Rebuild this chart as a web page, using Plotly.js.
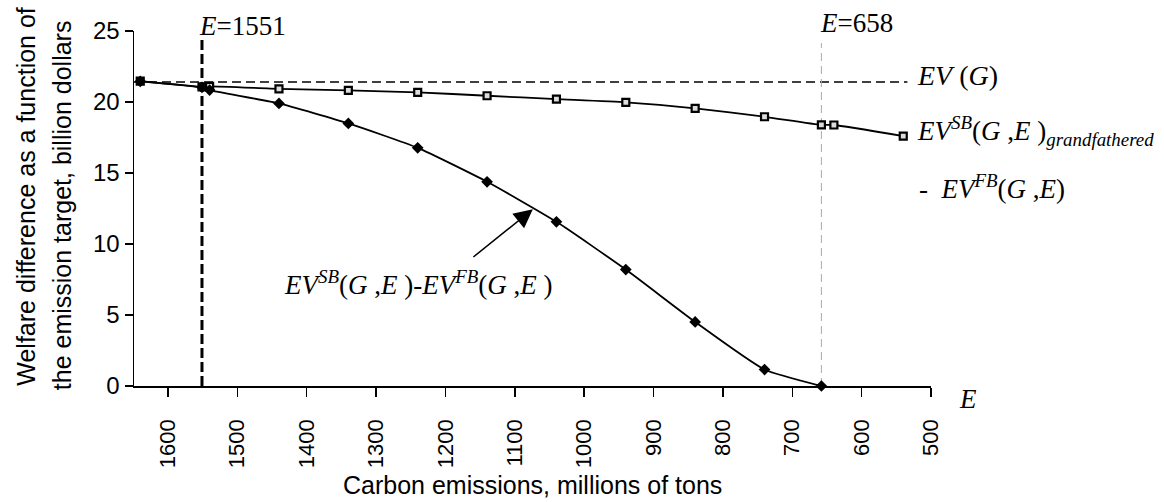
<!DOCTYPE html>
<html>
<head>
<meta charset="utf-8">
<script src="https://cdn.plot.ly/plotly-3.0.1.min.js"></script>
<style>html,body{margin:0;padding:0;background:#fff;}#chart{width:1164px;height:502px;}</style>
</head>
<body>
<div id="chart"></div>
<script>
// ---- data ----
var emissionsGrand = [1640, 1551, 1540, 1440, 1340, 1240, 1140, 1040, 940, 840, 740, 658, 640, 540];
var welfareGrand   = [21.47, 21.06, 21.1, 20.93, 20.82, 20.68, 20.44, 20.2, 19.97, 19.55, 18.96, 18.39, 18.38, 17.6];
var emissionsSB    = [1640, 1551, 1540, 1440, 1340, 1240, 1140, 1040, 940, 840, 740, 658];
var welfareSB      = [21.45, 21.03, 20.84, 19.9, 18.49, 16.77, 14.38, 11.56, 8.2, 4.51, 1.16, 0];
var evG = 21.4;
var eMark1 = 1551;
var eMark2 = 658;
var xTicks = [1600, 1500, 1400, 1300, 1200, 1100, 1000, 900, 800, 700, 600, 500];
var yTicks = [0, 5, 10, 15, 20, 25];

var serif = 'Liberation Serif, Times New Roman, serif';
var sans = 'Liberation Sans, Arial, sans-serif';

var traces = [
  {x: [1649, 534], y: [evG, evG], mode: 'lines', line: {color: '#000', width: 1.5, dash: '9px,5px'}, cliponaxis: false},
  {x: [eMark1, eMark1], y: [0, 24.36], mode: 'lines', line: {color: '#000', width: 3, dash: '10px,4px'}, cliponaxis: false},
  {x: [eMark2, eMark2], y: [0, 24.15], mode: 'lines', line: {color: '#aaaaaa', width: 1, dash: '8px,5px'}, cliponaxis: false},
  {x: emissionsGrand, y: welfareGrand, mode: 'lines+markers', line: {color: '#000', width: 1.8, shape: 'spline', smoothing: 0.5},
   marker: {symbol: 'square', size: 7, color: '#ddd', line: {color: '#000', width: 2.2}}, cliponaxis: false},
  {x: emissionsSB, y: welfareSB, mode: 'lines+markers', line: {color: '#000', width: 1.8, shape: 'spline', smoothing: 0.5},
   marker: {symbol: 'diamond', size: 9, color: '#000'}, cliponaxis: false}
];

var ann = [
  {xref: 'paper', yref: 'paper', x: 0.079, y: 1.014, xanchor: 'left', yanchor: 'middle', showarrow: false,
   text: '<i>E</i>=1551', font: {family: serif, size: 27, color: '#000'}},
  {xref: 'paper', yref: 'paper', x: 0.858, y: 1.0225, xanchor: 'left', yanchor: 'middle', showarrow: false,
   text: '<i>E</i>=658', font: {family: serif, size: 27, color: '#000'}},
  {xref: 'paper', yref: 'paper', x: 0.98, y: 0.876, xanchor: 'left', yanchor: 'middle', showarrow: false,
   text: '<i>EV</i> (<i>G</i>)', font: {family: serif, size: 28, color: '#000'}},
  {xref: 'paper', yref: 'paper', x: 0.98, y: 0.718, xanchor: 'left', yanchor: 'middle', showarrow: false,
   text: '<i>EV</i><sup><i>SB</i></sup>(<i>G</i> ,<i>E</i> )<sub><i>grandfathered</i></sub>', font: {family: serif, size: 27, color: '#000'}},
  {xref: 'paper', yref: 'paper', x: 0.982, y: 0.56, xanchor: 'left', yanchor: 'middle', showarrow: false,
   text: '-  <i>EV</i><sup><i>FB</i></sup>(<i>G</i> ,<i>E</i>)', font: {family: serif, size: 27, color: '#000'}},
  {xref: 'paper', yref: 'paper', x: 0.1857, y: 0.29, xanchor: 'left', yanchor: 'middle', showarrow: false,
   text: '<i>EV</i><sup><i>SB</i></sup>(<i>G</i> ,<i>E</i> )-<i>EV</i><sup><i>FB</i></sup>(<i>G</i> ,<i>E</i> )', font: {family: serif, size: 27, color: '#000'}},
  {xref: 'paper', yref: 'paper', x: 1.046, y: -0.037, xanchor: 'center', yanchor: 'middle', showarrow: false,
   text: '<i>E</i>', font: {family: serif, size: 27, color: '#000'}},
  {xref: 'x', yref: 'y', x: 1074, y: 12.45, ax: -61, ay: 49, showarrow: true, arrowhead: 2, arrowsize: 2.5, arrowwidth: 1.5,
   arrowcolor: '#000', text: ''},
  {xref: 'paper', yref: 'paper', x: -0.136, y: 0.535, xanchor: 'center', yanchor: 'middle', showarrow: false, textangle: -90,
   text: 'Welfare difference as a function of', font: {family: sans, size: 25, color: '#000'}},
  {xref: 'paper', yref: 'paper', x: -0.09, y: 0.51, xanchor: 'center', yanchor: 'middle', showarrow: false, textangle: -90,
   text: 'the emission target, billion dollars', font: {family: sans, size: 25, color: '#000'}},
  {xref: 'paper', yref: 'paper', x: 0.5, y: -0.279, xanchor: 'center', yanchor: 'middle', showarrow: false,
   text: 'Carbon emissions, millions of tons', font: {family: sans, size: 25, color: '#000'}}
];

var layout = {
  width: 1164, height: 502,
  margin: {l: 134, r: 233, t: 31, b: 116},
  paper_bgcolor: '#fff', plot_bgcolor: '#fff',
  showlegend: false, hovermode: false,
  xaxis: {range: [1649, 500], tickvals: xTicks, ticktext: xTicks.map(String), tickangle: -90, ticklabelstandoff: 14,
    ticks: 'outside', ticklen: 9, tickwidth: 1.5, tickcolor: '#000', showline: true, linecolor: '#000', linewidth: 1.5,
    showgrid: false, zeroline: false, tickfont: {family: sans, size: 22, color: '#000'}},
  yaxis: {range: [0, 25], tickvals: yTicks, ticktext: yTicks.map(String),
    ticks: 'outside', ticklen: 8, tickwidth: 1.5, tickcolor: '#000', showline: true, linecolor: '#000', linewidth: 1.5,
    showgrid: false, zeroline: false, tickfont: {family: sans, size: 24, color: '#000'}},
  annotations: ann
};

Plotly.newPlot('chart', traces, layout, {displayModeBar: false, staticPlot: true});
</script>
</body>
</html>
